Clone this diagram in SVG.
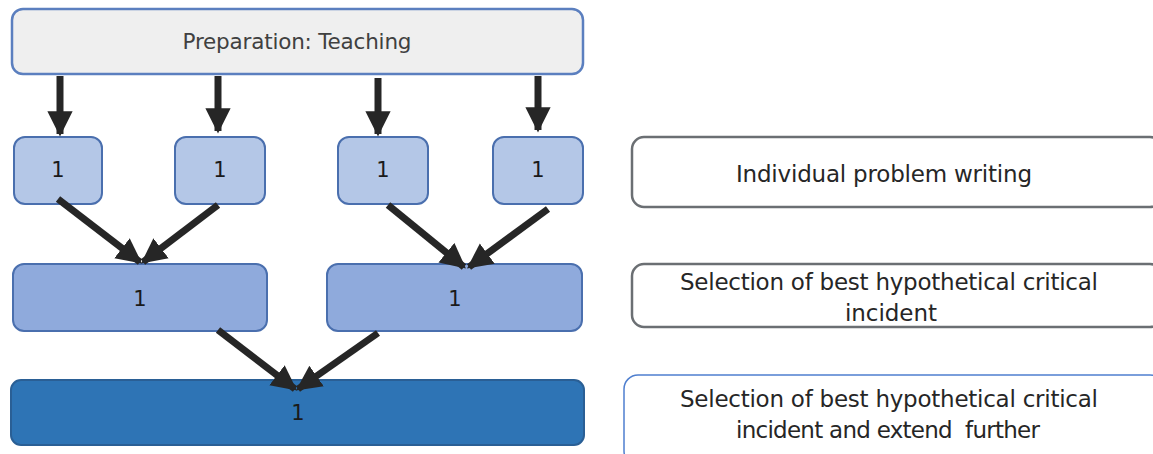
<svg xmlns="http://www.w3.org/2000/svg" width="1153" height="454" viewBox="0 0 1153 454">
  <style>
    .lbl { font-family: "DejaVu Sans", "Liberation Sans", sans-serif; fill: #262626; text-anchor: middle; }
    .num { font-size: 21px; fill: #1a1a1a; }
    .desc { font-size: 23px; }
    .side { fill: #ffffff; stroke: #6b6f73; stroke-width: 2.5; }
    .conn { stroke: #262626; stroke-width: 7; fill: none; marker-end: url(#head); }
  </style>
  <defs>
    <marker id="head" viewBox="0 0 10 10" refX="9" refY="5" markerWidth="3.6" markerHeight="3.8" orient="auto" markerUnits="strokeWidth">
      <path d="M0,0 L10,5 L0,10 Z" fill="#262626"/>
    </marker>
  </defs>

  <!-- top preparation box -->
  <g id="prep">
    <rect x="12" y="9" width="571" height="65" rx="11" fill="#efefef" stroke="#5b7fbf" stroke-width="2.5"/>
    <text class="lbl" x="297" y="49" font-size="21.5" textLength="229" style="fill:#404040">Preparation: Teaching</text>
  </g>

  <!-- individual writers -->
  <g id="w1"><rect x="14" y="137" width="88" height="67" rx="11" fill="#b4c7e7" stroke="#4a6fae" stroke-width="2"/><text class="lbl num" x="58" y="177">1</text></g>
  <g id="w2"><rect x="175" y="137" width="90" height="67" rx="11" fill="#b4c7e7" stroke="#4a6fae" stroke-width="2"/><text class="lbl num" x="220" y="177">1</text></g>
  <g id="w3"><rect x="338" y="137" width="90" height="67" rx="11" fill="#b4c7e7" stroke="#4a6fae" stroke-width="2"/><text class="lbl num" x="383" y="177">1</text></g>
  <g id="w4"><rect x="493" y="137" width="90" height="67" rx="11" fill="#b4c7e7" stroke="#4a6fae" stroke-width="2"/><text class="lbl num" x="538" y="177">1</text></g>

  <!-- pair selections -->
  <g id="s1"><rect x="13" y="264" width="254" height="67" rx="11" fill="#8faadc" stroke="#4a6fae" stroke-width="2"/><text class="lbl num" x="140" y="306">1</text></g>
  <g id="s2"><rect x="327" y="264" width="255" height="67" rx="11" fill="#8faadc" stroke="#4a6fae" stroke-width="2"/><text class="lbl num" x="455" y="306">1</text></g>

  <!-- final selection -->
  <g id="final"><rect x="11" y="380" width="573" height="65" rx="10" fill="#2e74b5" stroke="#2a5f95" stroke-width="2"/><text class="lbl num" x="298" y="420">1</text></g>

  <!-- stage descriptions -->
  <g id="d1">
    <rect class="side" x="632" y="137" width="530" height="70" rx="12"/>
    <text class="lbl desc" x="884" y="182" textLength="296">Individual problem writing</text>
  </g>
  <g id="d2">
    <rect class="side" x="632" y="264" width="530" height="63" rx="12"/>
    <text class="lbl desc" x="889" y="290" textLength="418">Selection of best hypothetical critical</text>
    <text class="lbl desc" x="891" y="321" textLength="92">incident</text>
  </g>
  <g id="d3">
    <rect x="624" y="375" width="540" height="90" rx="14" fill="#ffffff" stroke="#4f7fcf" stroke-width="1.5"/>
    <text class="lbl desc" x="889" y="407" textLength="418">Selection of best hypothetical critical</text>
    <text class="lbl desc" x="888" y="438" textLength="304" xml:space="preserve">incident and extend  further</text>
  </g>

  <!-- connectors -->
  <g id="connectors">
    <line class="conn" x1="60" y1="76" x2="60" y2="134"/>
    <line class="conn" x1="218" y1="76" x2="218" y2="131"/>
    <line class="conn" x1="378" y1="78" x2="378" y2="134"/>
    <line class="conn" x1="538" y1="76" x2="538" y2="130"/>
    <line class="conn" x1="58" y1="199" x2="140" y2="262"/>
    <line class="conn" x1="218" y1="205" x2="143" y2="262"/>
    <line class="conn" x1="388" y1="205" x2="464" y2="267"/>
    <line class="conn" x1="548" y1="209" x2="469" y2="267"/>
    <line class="conn" x1="218" y1="330" x2="295" y2="389"/>
    <line class="conn" x1="378" y1="333" x2="298" y2="389"/>
  </g>
</svg>
